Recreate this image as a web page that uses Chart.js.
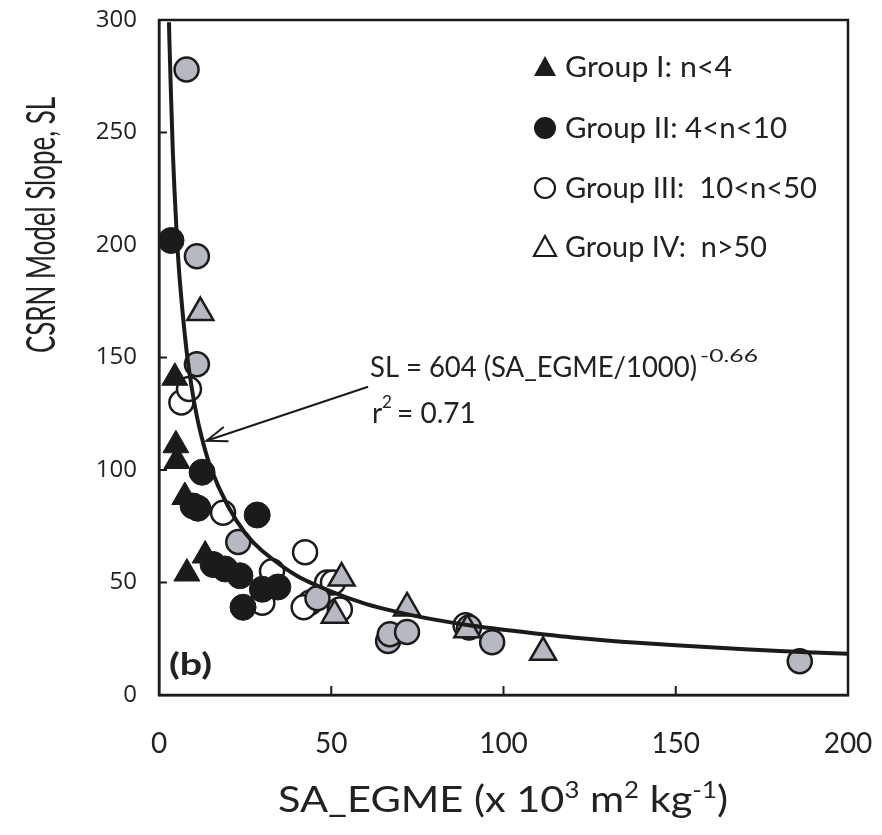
<!DOCTYPE html>
<html><head><meta charset="utf-8">
<script src="https://cdn.jsdelivr.net/npm/chart.js@4.4.1/dist/chart.umd.min.js"></script>
<style>html,body{margin:0;padding:0;background:#fff;}#wrap{width:882px;height:835px;}</style>
</head><body><div id="wrap"><canvas id="c" width="882" height="835"></canvas></div>
<script>
// ---- data ----
const xTicks = [0, 50, 100, 150, 200];
const yTicks = [0, 50, 100, 150, 200, 250, 300];
const groupLabels = ['Group I: n<4', 'Group II: 4<n<10', 'Group III:  10<n<50', 'Group IV:  n>50'];

// Group I (filled triangles)
const g1X = [4.6, 4.9, 5.2, 7.5, 13.4, 8.1];
const g1Y = [141, 111, 104, 88, 62, 54];
// Group II (filled circles)
const g2X = [3.5, 12.5, 9.9, 11.3, 28.5, 15.7, 19.2, 23.5, 30, 34.5, 24.4];
const g2Y = [202, 99, 84, 83, 80, 58, 56, 53, 47, 48, 39];
// Group III (open circles)
const g3X = [6.5, 8.7, 18.6, 42.4, 32.8, 30, 43.8, 48.8, 42.0, 50.5, 52.5, 89];
const g3Y = [130, 136, 81, 63.5, 55, 41, 41, 50, 39, 50, 38, 31];
// Group III, shaded circles
const g3sX = [8, 11, 11, 23, 46, 66.5, 67, 72, 90, 96.7, 186];
const g3sY = [278, 195, 147, 68, 43, 24, 27, 28, 30, 23.5, 15];
// Group IV, shaded triangles
const g4sX = [12, 53, 51, 72, 89.5, 111.5];
const g4sY = [170, 52, 35.5, 38.7, 29, 19];
// fitted curve, points
const fitX = [2.9, 3, 4, 5, 6, 8, 10, 12, 15, 20, 25, 30, 40, 50, 60, 70, 80, 90, 100, 120, 140, 160, 180, 200];
const fitY = [299, 292, 242, 209, 185, 153, 132, 117, 101, 84, 72, 64, 53, 46, 40.5, 36.6, 33.5, 31, 29, 25.6, 23.1, 21.2, 19.6, 18.3];
// arrow (tail -> tip) in data units
const arrowX = [60.7, 13.8];
const arrowY = [137, 113];

const pts = (xs, ys) => xs.map((x, i) => ({x, y: ys[i]}));
const INK = '#1b1b1b';
const SHADE = 'rgb(182,184,194)';

function fitText(ctx, text, x, y, font, width, align) {
  ctx.save();
  ctx.font = font;
  const w = ctx.measureText(text).width;
  const s = width ? width / w : 1;
  ctx.translate(x, y);
  ctx.scale(s, 1);
  ctx.textAlign = align || 'left';
  ctx.fillText(text, 0, 0);
  ctx.restore();
  return w * s;
}

const deco = {
  id: 'deco',
  afterDraw(chart) {
    const {ctx, chartArea: a, scales: {x, y}} = chart;
    ctx.save();
    // frame
    ctx.strokeStyle = INK; ctx.lineWidth = 2.5;
    ctx.strokeRect(a.left, a.top, a.right - a.left, a.bottom - a.top);
    // inward ticks
    ctx.lineWidth = 2;
    xTicks.slice(1, -1).forEach(v => { const p = x.getPixelForValue(v); ctx.beginPath(); ctx.moveTo(p, a.bottom); ctx.lineTo(p, a.bottom - 9); ctx.stroke(); });
    yTicks.slice(1, -1).forEach(v => { const p = y.getPixelForValue(v); ctx.beginPath(); ctx.moveTo(a.left, p); ctx.lineTo(a.left + 8, p); ctx.stroke(); });

    // arrow
    const x0 = x.getPixelForValue(arrowX[0]), y0 = y.getPixelForValue(arrowY[0]);
    const x1 = x.getPixelForValue(arrowX[1]), y1 = y.getPixelForValue(arrowY[1]);
    ctx.lineWidth = 2; ctx.strokeStyle = INK;
    ctx.beginPath(); ctx.moveTo(x0, y0); ctx.lineTo(x1, y1); ctx.stroke();
    const ang = Math.atan2(y1 - y0, x1 - x0);
    ctx.beginPath();
    ctx.moveTo(x1 - 22 * Math.cos(ang - 0.35), y1 - 22 * Math.sin(ang - 0.35));
    ctx.lineTo(x1, y1);
    ctx.lineTo(x1 - 22 * Math.cos(ang + 0.35), y1 - 22 * Math.sin(ang + 0.35));
    ctx.stroke();

    ctx.fillStyle = '#222';
    ctx.textBaseline = 'alphabetic';
    // equation
    fitText(ctx, 'SL = 604 (SA_EGME/1000)', 370, 377, '28px Lato', 327);
    fitText(ctx, '-0.66', 700, 362, '17px Lato', 58);
    fitText(ctx, 'r', 372, 423, '28px Lato');
    fitText(ctx, '2', 382, 408, '17px Lato');
    fitText(ctx, '= 0.71', 397, 423, '28px Lato');
    // panel label
    fitText(ctx, '(b)', 169, 675, 'bold 31px Lato', 43);

    // legend
    const rows = [67, 128, 188, 247];
    const widths = [167, 222, 252, 202];
    rows.forEach((ry, i) => {
      const mx = 545;
      ctx.lineWidth = 2.2; ctx.strokeStyle = INK; ctx.fillStyle = INK;
      ctx.beginPath();
      if (i === 0 || i === 3) {
        ctx.moveTo(mx, ry - 11); ctx.lineTo(mx + 11, ry + 9); ctx.lineTo(mx - 11, ry + 9); ctx.closePath();
      } else {
        ctx.arc(mx, ry, i === 1 ? 11 : 10, 0, Math.PI * 2);
      }
      if (i < 2) ctx.fill(); else ctx.stroke();
      ctx.fillStyle = '#222';
      fitText(ctx, groupLabels[i], 565, ry + 10, '28px Lato', widths[i]);
    });

    // axis titles
    ctx.save();
    ctx.translate(55, 225);
    ctx.rotate(-Math.PI / 2);
    fitText(ctx, 'CSRN Model Slope, SL', 0, 0, '41px Lato', 256, 'center');
    ctx.restore();

    // x title with superscripts
    const parts = [['SA_EGME (x 10', 37, 0], ['3', 23, -14], [' m', 37, 0], ['2', 23, -14], [' kg', 37, 0], ['-1', 23, -14], [')', 37, 0]];
    let total = 0;
    parts.forEach(p => { ctx.font = p[1] + 'px Lato'; total += ctx.measureText(p[0]).width; });
    const sc = 450 / total;
    let cx = 278;
    parts.forEach(p => {
      ctx.font = p[1] + 'px Lato';
      const w = ctx.measureText(p[0]).width;
      fitText(ctx, p[0], cx, 812 + p[2], p[1] + 'px Lato', w * sc);
      cx += w * sc;
    });
    ctx.restore();
  }
};

new Chart(document.getElementById('c'), {
  type: 'scatter',
  data: {
    datasets: [
      {label: 'fit', type: 'line', data: pts(fitX, fitY), borderColor: INK, borderWidth: 4, pointRadius: 0, tension: 0.3, fill: false, order: 0},
      {label: groupLabels[2], data: pts(g3X, g3Y), pointStyle: 'circle', pointRadius: 12, backgroundColor: '#fff', borderColor: INK, borderWidth: 2.5, order: 5},
      {label: groupLabels[0], data: pts(g1X, g1Y), pointStyle: 'triangle', pointRadius: 15, backgroundColor: INK, borderColor: INK, borderWidth: 1, order: 4},
      {label: groupLabels[1], data: pts(g2X, g2Y), pointStyle: 'circle', pointRadius: 13, backgroundColor: INK, borderColor: INK, borderWidth: 1, order: 3},
      {label: 'Group III shaded', data: pts(g3sX, g3sY), pointStyle: 'circle', pointRadius: 12, backgroundColor: SHADE, borderColor: INK, borderWidth: 2.5, order: 2},
      {label: 'Group IV shaded', data: pts(g4sX, g4sY), pointStyle: 'triangle', pointRadius: 15, backgroundColor: SHADE, borderColor: INK, borderWidth: 2.5, order: 1}
    ]
  },
  options: {
    responsive: false,
    animation: false,
    layout: {padding: {left: 0, top: 20, right: 34, bottom: 0}},
    plugins: {legend: {display: false}, tooltip: {enabled: false}},
    scales: {
      x: {
        type: 'linear', min: 0, max: 200,
        afterBuildTicks: s => { s.ticks = xTicks.map(v => ({value: v})); },
        afterFit: s => { s.height = 140; s.paddingLeft = 0; s.paddingRight = 0; },
        grid: {display: false, drawTicks: false},
        border: {display: true, color: INK, width: 2.5},
        ticks: {font: {family: 'Lato', size: 28}, color: '#222', padding: 32, maxRotation: 0}
      },
      y: {
        min: 0, max: 300,
        afterBuildTicks: s => { s.ticks = yTicks.map(v => ({value: v})); },
        afterFit: s => { s.width = 159; s.paddingTop = 0; s.paddingBottom = 0; },
        grid: {display: false, drawTicks: false},
        border: {display: true, color: INK, width: 2.5},
        ticks: {font: {family: 'Open Sans', size: 24}, color: '#222', padding: 22}
      }
    }
  },
  plugins: [deco]
});
</script></body></html>
